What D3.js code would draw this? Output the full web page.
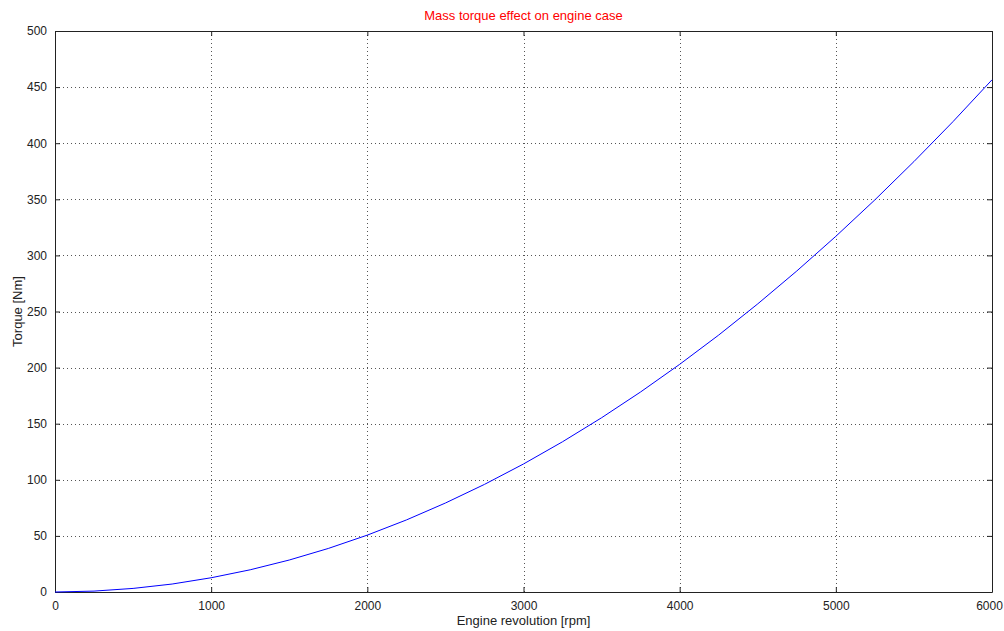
<!DOCTYPE html>
<html>
<head>
<meta charset="utf-8">
<script src="https://cdn.jsdelivr.net/npm/d3@7"></script>
<style>
  body { margin: 0; background: #fff; }
  text { font-family: "Liberation Sans", Arial, sans-serif; }
</style>
</head>
<body>
<div id="plot"></div>
<script>
// chart data
var rpm = [0, 250, 500, 750, 1000, 1250, 1500, 1750, 2000, 2250, 2500, 2750, 3000,
  3250, 3500, 3750, 4000, 4250, 4500, 4750, 5000, 5250, 5500, 5750, 6000];
var torque = [0, 0.8, 3.2, 7.1, 12.7, 19.8, 28.5, 38.8, 50.7, 64.2, 79.3, 95.9, 114.1,
  133.9, 155.3, 178.3, 202.9, 229.0, 256.8, 286.1, 317.0, 349.5, 383.6, 419.2, 456.5];
var xTicks = [0, 1000, 2000, 3000, 4000, 5000, 6000];
var yTicks = [0, 50, 100, 150, 200, 250, 300, 350, 400, 450, 500];

var svgWidth = 1004;
var svgHeight = 631;
var margin = { top: 31, right: 12, bottom: 39, left: 55 };
var width = svgWidth - margin.left - margin.right;
var height = svgHeight - margin.top - margin.bottom;

var svg = d3.select("#plot")
  .append("svg")
  .attr("width", svgWidth)
  .attr("height", svgHeight);

var chartGroup = svg.append("g")
  .attr("transform", `translate(${margin.left}, ${margin.top})`);

var xScale = d3.scaleLinear().domain([0, 6000]).range([0, width]);
var yScale = d3.scaleLinear().domain([0, 500]).range([height, 0]);

// dotted grid
chartGroup.selectAll(".vgrid")
  .data(xTicks.slice(1, -1))
  .enter()
  .append("line")
  .attr("x1", d => Math.round(xScale(d)) + 0.5)
  .attr("x2", d => Math.round(xScale(d)) + 0.5)
  .attr("y1", 0)
  .attr("y2", height)
  .attr("stroke", "#555")
  .attr("stroke-dasharray", "1,3");

chartGroup.selectAll(".hgrid")
  .data(yTicks.slice(1, -1))
  .enter()
  .append("line")
  .attr("y1", d => Math.round(yScale(d)) + 0.5)
  .attr("y2", d => Math.round(yScale(d)) + 0.5)
  .attr("x1", 0)
  .attr("x2", width)
  .attr("stroke", "#555")
  .attr("stroke-dasharray", "1,3");

// axes with inward ticks, box on all sides
var bottomAxis = d3.axisBottom(xScale).tickValues(xTicks).tickFormat(d3.format("d"))
  .tickSizeInner(-5).tickSizeOuter(0).tickPadding(9);
var leftAxis = d3.axisLeft(yScale).tickValues(yTicks).tickFormat(d3.format("d"))
  .tickSizeInner(-5).tickSizeOuter(0).tickPadding(8);
var topAxis = d3.axisTop(xScale).tickValues(xTicks).tickSizeInner(-5).tickSizeOuter(0).tickFormat("");
var rightAxis = d3.axisRight(yScale).tickValues(yTicks).tickSizeInner(-5).tickSizeOuter(0).tickFormat("");

var xAxis = chartGroup.append("g")
  .attr("transform", `translate(0, ${height})`)
  .call(bottomAxis);
chartGroup.append("g").call(leftAxis);
chartGroup.append("g").call(topAxis);
chartGroup.append("g").attr("transform", `translate(${width}, 0)`).call(rightAxis);

chartGroup.selectAll(".domain").attr("stroke", "#222");
chartGroup.selectAll(".tick line").attr("stroke", "#222");
chartGroup.selectAll(".tick text")
  .attr("font-size", "12px")
  .attr("fill", "#222")
  .style("font-family", "Liberation Sans, Arial, sans-serif");

// keep the last x label inside the window
xAxis.selectAll(".tick text")
  .filter(d => d === 6000)
  .attr("dx", "-3");

// the curve
var line = d3.line()
  .x((d, i) => xScale(rpm[i]))
  .y(d => yScale(d));

chartGroup.append("path")
  .datum(torque)
  .attr("d", line)
  .attr("fill", "none")
  .attr("stroke", "#0000ff")
  .attr("stroke-width", 1);

// labels
svg.append("text")
  .attr("x", margin.left + width / 2)
  .attr("y", 20)
  .attr("text-anchor", "middle")
  .attr("font-size", "13px")
  .attr("fill", "#ff0000")
  .text("Mass torque effect on engine case");

svg.append("text")
  .attr("x", margin.left + width / 2)
  .attr("y", 625)
  .attr("text-anchor", "middle")
  .attr("font-size", "13px")
  .attr("fill", "#222")
  .text("Engine revolution [rpm]");

svg.append("text")
  .attr("transform", "rotate(-90)")
  .attr("x", -(margin.top + height / 2))
  .attr("y", 22)
  .attr("text-anchor", "middle")
  .attr("font-size", "13px")
  .attr("fill", "#222")
  .text("Torque [Nm]");
</script>
</body>
</html>
